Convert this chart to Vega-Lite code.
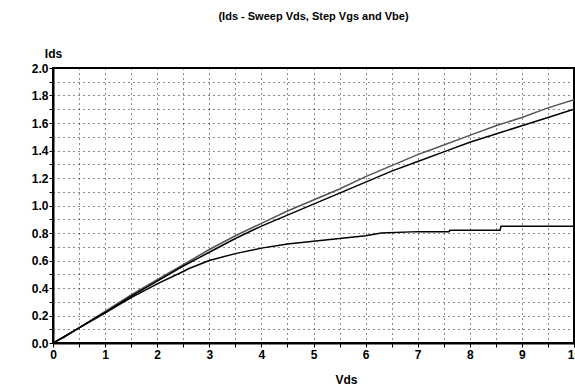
{
  "$schema": "https://vega.github.io/schema/vega-lite/v6.json",
  "autosize": "none",
  "width": 521,
  "height": 275,
  "padding": {"left": 53, "top": 68, "right": 1, "bottom": 47},
  "background": "white",
  "title": {
    "text": "(Ids - Sweep Vds, Step Vgs and Vbe)",
    "font": "Liberation Sans Narrow, Liberation Sans",
    "fontSize": 11,
    "fontWeight": "bold",
    "color": "black",
    "anchor": "middle",
    "offset": 25
  },
  "config": {
    "view": {"stroke": "black", "strokeWidth": 2},
    "axis": {
      "labelFont": "Liberation Sans Narrow, Liberation Sans",
      "labelFontSize": 12,
      "labelFontWeight": "bold",
      "labelColor": "black",
      "titleFont": "Liberation Sans Narrow, Liberation Sans",
      "titleFontSize": 12,
      "titleFontWeight": "bold",
      "titleColor": "black",
      "domainColor": "black",
      "domainWidth": 2,
      "tickColor": "black",
      "tickSize": 4,
      "gridColor": "black",
      "gridDash": [1, 4],
      "gridOpacity": 0.9,
      "gridWidth": 1
    }
  },
  "data": {
    "values": [
      {"s": "A", "v": 0, "i": 0}, {"s": "A", "v": 0.5, "i": 0.11}, {"s": "A", "v": 1, "i": 0.23}, {"s": "A", "v": 1.5, "i": 0.35}, {"s": "A", "v": 2, "i": 0.46}, {"s": "A", "v": 2.5, "i": 0.57}, {"s": "A", "v": 3, "i": 0.68}, {"s": "A", "v": 3.5, "i": 0.78}, {"s": "A", "v": 4, "i": 0.87}, {"s": "A", "v": 4.5, "i": 0.96}, {"s": "A", "v": 5, "i": 1.04}, {"s": "A", "v": 5.5, "i": 1.12}, {"s": "A", "v": 6, "i": 1.21}, {"s": "A", "v": 6.5, "i": 1.29}, {"s": "A", "v": 7, "i": 1.37}, {"s": "A", "v": 7.5, "i": 1.44}, {"s": "A", "v": 8, "i": 1.51}, {"s": "A", "v": 8.5, "i": 1.58}, {"s": "A", "v": 9, "i": 1.64}, {"s": "A", "v": 9.5, "i": 1.71}, {"s": "A", "v": 10, "i": 1.77},
      {"s": "B", "v": 0, "i": 0}, {"s": "B", "v": 0.5, "i": 0.11}, {"s": "B", "v": 1, "i": 0.22}, {"s": "B", "v": 1.5, "i": 0.34}, {"s": "B", "v": 2, "i": 0.45}, {"s": "B", "v": 2.5, "i": 0.56}, {"s": "B", "v": 3, "i": 0.66}, {"s": "B", "v": 3.5, "i": 0.76}, {"s": "B", "v": 4, "i": 0.85}, {"s": "B", "v": 4.5, "i": 0.93}, {"s": "B", "v": 5, "i": 1.01}, {"s": "B", "v": 5.5, "i": 1.09}, {"s": "B", "v": 6, "i": 1.17}, {"s": "B", "v": 6.5, "i": 1.25}, {"s": "B", "v": 7, "i": 1.32}, {"s": "B", "v": 7.5, "i": 1.39}, {"s": "B", "v": 8, "i": 1.46}, {"s": "B", "v": 8.5, "i": 1.52}, {"s": "B", "v": 9, "i": 1.58}, {"s": "B", "v": 9.5, "i": 1.64}, {"s": "B", "v": 10, "i": 1.70},
      {"s": "C", "v": 0, "i": 0}, {"s": "C", "v": 0.2, "i": 0.04}, {"s": "C", "v": 0.5, "i": 0.11}, {"s": "C", "v": 1, "i": 0.22}, {"s": "C", "v": 1.5, "i": 0.33}, {"s": "C", "v": 2, "i": 0.43}, {"s": "C", "v": 2.5, "i": 0.52}, {"s": "C", "v": 2.6, "i": 0.54}, {"s": "C", "v": 3, "i": 0.60}, {"s": "C", "v": 3.5, "i": 0.65}, {"s": "C", "v": 4, "i": 0.69}, {"s": "C", "v": 4.5, "i": 0.72}, {"s": "C", "v": 5, "i": 0.74}, {"s": "C", "v": 5.5, "i": 0.76}, {"s": "C", "v": 6, "i": 0.78}, {"s": "C", "v": 6.3, "i": 0.80}, {"s": "C", "v": 7, "i": 0.81}, {"s": "C", "v": 7.6, "i": 0.81}, {"s": "C", "v": 7.62, "i": 0.82}, {"s": "C", "v": 8.58, "i": 0.82}, {"s": "C", "v": 8.6, "i": 0.85}, {"s": "C", "v": 10, "i": 0.85}
    ]
  },
  "mark": {"type": "line", "strokeWidth": 1.5, "clip": true},
  "encoding": {
    "x": {
      "field": "v",
      "type": "quantitative",
      "scale": {"domain": [0, 10], "nice": false, "zero": false},
      "axis": {
        "title": "Vds",
        "titleX": 293,
        "titleY": 40,
        "titleAlign": "center",
        "titleBaseline": "alphabetic",
        "values": [0, 0.5, 1, 1.5, 2, 2.5, 3, 3.5, 4, 4.5, 5, 5.5, 6, 6.5, 7, 7.5, 8, 8.5, 9, 9.5, 10],
        "labelExpr": "datum.value % 1 === 0 ? format(datum.value, 'd') : ''",
        "labelBound": false,
        "labelFlush": false,
        "labelOverlap": false,
        "labelPadding": 2
      }
    },
    "y": {
      "field": "i",
      "type": "quantitative",
      "scale": {"domain": [0, 2], "nice": false},
      "axis": {
        "title": "Ids",
        "titleAngle": 0,
        "titleX": 0,
        "titleY": -11,
        "titleAlign": "center",
        "titleBaseline": "alphabetic",
        "values": [0, 0.1, 0.2, 0.3, 0.4, 0.5, 0.6, 0.7, 0.8, 0.9, 1, 1.1, 1.2, 1.3, 1.4, 1.5, 1.6, 1.7, 1.8, 1.9, 2],
        "labelExpr": "round(datum.value * 10) % 2 === 0 ? format(datum.value, '.1f') : ''",
        "labelOverlap": false,
        "labelPadding": 1,
        "labelBound": false,
        "labelFlush": false
      }
    },
    "color": {
      "field": "s",
      "type": "nominal",
      "scale": {"domain": ["A", "B", "C"], "range": ["#555555", "black", "black"]},
      "legend": null
    }
  }
}
